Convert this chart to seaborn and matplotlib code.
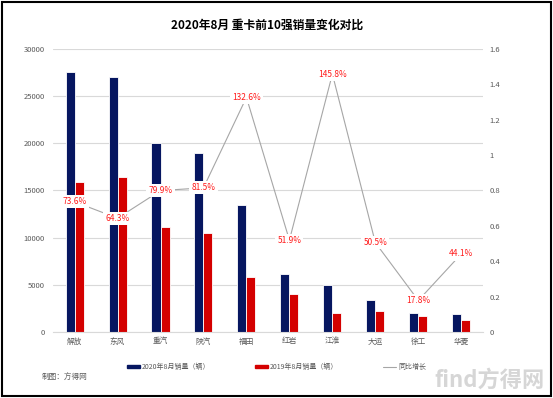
import numpy as np
import pandas as pd
import matplotlib
matplotlib.use('Agg')
import matplotlib.pyplot as plt
import seaborn as sns
from matplotlib.lines import Line2D
from matplotlib.patches import Patch, Rectangle
from matplotlib.ticker import FuncFormatter, MultipleLocator

# 数据
brands = ['解放', '东风', '重汽', '陕汽', '福田', '红岩', '江淮', '大运', '徐工', '华菱']
sales_2020 = [27600, 27000, 20000, 19000, 13500, 6100, 5000, 3400, 2000, 1850]
sales_2019 = [15900, 16450, 11100, 10500, 5850, 4020, 2050, 2250, 1700, 1300]
growth = [0.736, 0.643, 0.799, 0.815, 1.326, 0.519, 1.458, 0.505, 0.178, 0.441]

lab_2020 = '2020年8月销量（辆）'
lab_2019 = '2019年8月销量（辆）'
lab_growth = '同比增长'

c_blue = '#061660'
c_red = '#d40000'
c_line = '#a6a6a6'
c_txt = '#595959'

sns.set_style('white')
plt.rcParams['font.family'] = ['Noto Sans CJK SC', 'DejaVu Sans']

df = pd.DataFrame({
    '品牌': brands * 2,
    '销量': sales_2020 + sales_2019,
    '年份': [lab_2020] * len(brands) + [lab_2019] * len(brands),
})

fig = plt.figure(figsize=(5.53, 3.98), dpi=100)
ax = fig.add_axes([0.096, 0.166, 0.777, 0.711])

sns.barplot(data=df, x='品牌', y='销量', hue='年份', palette=[c_blue, c_red],
            saturation=1, width=0.42, edgecolor='white', linewidth=0.6,
            ax=ax, legend=False)
ax.set_ylim(0, 30000)
ax.yaxis.set_major_locator(MultipleLocator(5000))
ax.grid(axis='y', color='#d9d9d9', linewidth=0.8)
ax.set_axisbelow(True)
ax.set_xlabel('')
ax.set_ylabel('')
for s in ['top', 'right', 'left']:
    ax.spines[s].set_visible(False)
ax.spines['bottom'].set_color('#d9d9d9')
ax.tick_params(axis='both', length=0, labelsize=5.5, labelcolor=c_txt)
ax.tick_params(axis='y', pad=6)
ax.tick_params(axis='x', pad=4)

ax2 = ax.twinx()
xs = np.arange(len(brands))
sns.lineplot(x=xs, y=growth, ax=ax2, color=c_line, linewidth=0.8)
ax2.set_ylim(0, 1.6)
ax2.yaxis.set_major_locator(MultipleLocator(0.2))
ax2.yaxis.set_major_formatter(FuncFormatter(lambda v, p: f'{v:g}'))
ax2.tick_params(axis='y', length=0, labelsize=5.5, labelcolor=c_txt, pad=5)
for s in ax2.spines.values():
    s.set_visible(False)
for i, g in enumerate(growth):
    ax2.text(i, g, f'{g * 100:.1f}%', ha='center', va='center', fontsize=6,
             color='#ff1a1a', zorder=5,
             bbox=dict(boxstyle='square,pad=0.25', fc='white', ec='none'))
ax.set_xlim(-0.5, len(brands) - 0.5)

fig.text(0.483, 0.937, '2020年8月 重卡前10强销量变化对比', ha='center', va='center',
         fontsize=8.5, fontweight='bold', color='black')

handles = [Patch(color=c_blue), Patch(color=c_red), Line2D([0], [0], color=c_line, lw=0.8)]
fig.legend(handles, [lab_2020, lab_2019, lab_growth], loc='center',
           bbox_to_anchor=(0.50, 0.078), ncol=3, frameon=False, fontsize=5,
           handlelength=1.8, handleheight=0.35, columnspacing=6.5,
           handletextpad=0.3, labelcolor=c_txt)

fig.text(0.076, 0.053, '制图：方得网', fontsize=5.5, color=c_txt, va='center')
fig.text(0.985, 0.045, 'find方得网', fontsize=16, color='#d6d6d6', ha='right',
         va='center', fontweight='bold')

fig.patches.append(Rectangle((0.004, 0.006), 0.992, 0.99, transform=fig.transFigure,
                             fill=False, ec='black', lw=1.5))

fig.savefig('out.png', dpi=100)
